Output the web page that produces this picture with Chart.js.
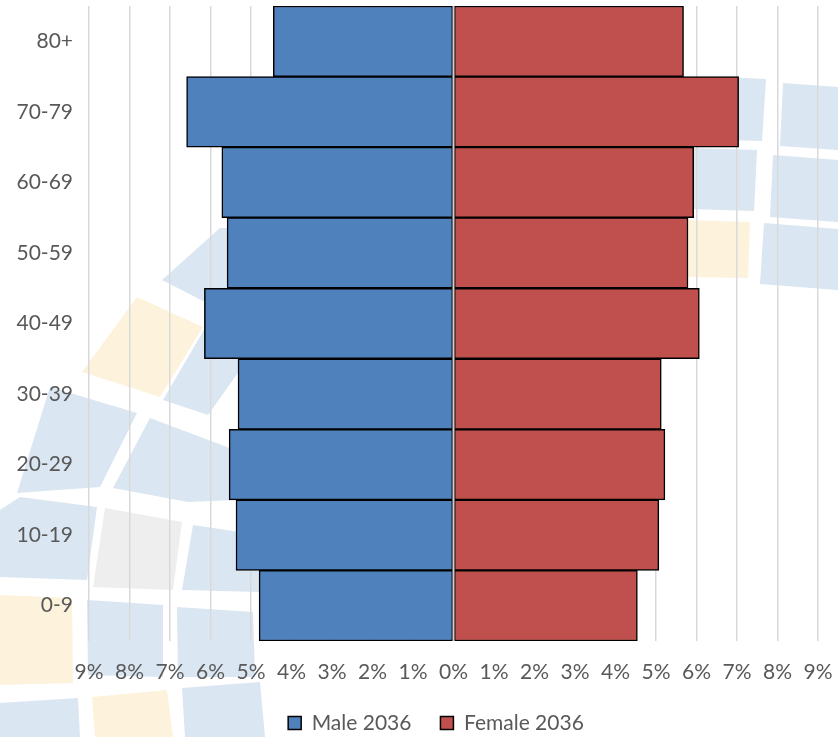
<!DOCTYPE html>
<html>
<head>
<meta charset="utf-8">
<script src="https://cdn.jsdelivr.net/npm/chart.js@4.4.1/dist/chart.umd.min.js"></script>
<style>
  html, body { margin: 0; padding: 0; background: #fff; overflow: hidden; }
  #wrap { width: 838px; height: 737px; position: relative; }
</style>
</head>
<body>
<div id="wrap"><canvas id="pyramid"></canvas></div>
<script>
// age groups, top to bottom
const ageGroups = ['80+', '70-79', '60-69', '50-59', '40-49', '30-39', '20-29', '10-19', '0-9'];
// share of population (%)
const male2036 = [4.45, 6.59, 5.72, 5.59, 6.15, 5.32, 5.54, 5.37, 4.80];
const female2036 = [5.68, 7.04, 5.93, 5.79, 6.07, 5.13, 5.22, 5.07, 4.54];
const seriesNames = ['Male 2036', 'Female 2036'];
const axisMax = 9;

// faint logo tiles behind the chart (decoration only)
const BLUE = '#dae6f1', YELLOW = '#fdf2dc', GRAY = '#eeeeee';
const watermarkTiles = [
    [BLUE, [[725,77],[766,79],[762,141],[725,140]]],
    [BLUE, [[783,83],[838,87],[838,150],[780,146]]],
    [BLUE, [[690,148],[757,150],[754,211],[690,209]]],
    [BLUE, [[773,155],[838,160],[838,222],[770,217]]],
    [YELLOW, [[686,220],[750,222],[748,278],[686,277]]],
    [BLUE, [[764,223],[838,229],[838,290],[760,284]]],
    [BLUE, [[162,280],[220,228],[240,228],[240,300],[203,301]]],
    [YELLOW, [[82,372],[137,297],[203,327],[160,397]]],
    [BLUE, [[163,400],[208,415],[240,370],[240,330],[205,328]]],
    [BLUE, [[50,387],[137,413],[100,487],[17,493]]],
    [BLUE, [[150,418],[235,450],[235,500],[188,502],[113,488]]],
    [BLUE, [[20,497],[97,507],[87,580],[0,577],[0,510]]],
    [GRAY, [[105,508],[182,522],[173,590],[93,587]]],
    [BLUE, [[193,525],[260,535],[260,592],[182,590]]],
    [YELLOW, [[0,595],[72,598],[73,683],[0,685]]],
    [BLUE, [[87,600],[163,605],[163,677],[88,675]]],
    [BLUE, [[177,607],[253,612],[255,677],[178,677]]],
    [BLUE, [[0,703],[78,698],[80,737],[0,737]]],
    [YELLOW, [[92,697],[167,690],[173,737],[95,737]]],
    [BLUE, [[182,688],[260,682],[265,737],[185,737]]]
];

const watermark = {
    id: 'watermark',
    beforeDraw(chart) {
        const ctx = chart.ctx;
        ctx.save();
        watermarkTiles.forEach(([color, pts]) => {
            ctx.beginPath();
            pts.forEach(([x, y], i) => i ? ctx.lineTo(x, y) : ctx.moveTo(x, y));
            ctx.closePath();
            ctx.fillStyle = color;
            ctx.fill();
        });
        ctx.restore();
    }
};

// vertical axis line at 0%, drawn over the bars like Excel does
const centerLine = {
    id: 'centerLine',
    afterDatasetsDraw(chart) {
        const ctx = chart.ctx;
        const x = chart.scales.x.getPixelForValue(0);
        ctx.save();
        ctx.strokeStyle = '#d0d0d0';
        ctx.lineWidth = 2;
        ctx.beginPath();
        ctx.moveTo(x, chart.chartArea.top);
        ctx.lineTo(x, chart.chartArea.bottom);
        ctx.stroke();
        ctx.restore();
    }
};

// Excel centres the legend a bit right of the canvas middle
const legendShift = {
    id: 'legendShift',
    afterLayout(chart) { chart.legend.left = 54; }
};

function noScalePadding(scale) {
    scale.paddingLeft = scale.paddingRight = scale.paddingTop = scale.paddingBottom = 0;
}

const textColor = '#595959';
const font = { family: 'Lato', size: 21 };

var ctx = document.getElementById('pyramid').getContext('2d');
var chart = new Chart(ctx, {
    type: 'bar',
    data: {
        labels: ageGroups,
        datasets: [{
            label: seriesNames[0],
            data: male2036.map(v => -v),
            backgroundColor: '#4f81bd',
            borderColor: '#000000',
            borderWidth: 1.5,
            borderSkipped: false
        }, {
            label: seriesNames[1],
            data: female2036,
            backgroundColor: '#c0504d',
            borderColor: '#000000',
            borderWidth: 1.5,
            borderSkipped: false
        }]
    },
    options: {
        indexAxis: 'y',
        responsive: true,
        maintainAspectRatio: false,
        animation: false,
        layout: { padding: { top: 6, right: 20, left: 0, bottom: -6.5 } },
        datasets: { bar: { barPercentage: 1, categoryPercentage: 1 } },
        scales: {
            x: {
                stacked: true,
                min: -axisMax,
                max: axisMax,
                grid: { color: '#d9d9d9', lineWidth: 1.5, drawTicks: false },
                border: { display: false },
                ticks: {
                    stepSize: 1,
                    autoSkip: false,
                    maxRotation: 0,
                    padding: 19,
                    color: textColor,
                    font: font,
                    callback: v => Math.abs(v) + '%'
                },
                afterFit(scale) { scale.height = 42.5; noScalePadding(scale); }
            },
            y: {
                stacked: true,
                grid: { display: false, drawTicks: false },
                border: { display: false },
                ticks: { padding: 16, color: textColor, font: font },
                afterFit(scale) { scale.width = 89; noScalePadding(scale); }
            }
        },
        plugins: {
            legend: {
                position: 'bottom',
                labels: {
                    boxWidth: 13,
                    boxHeight: 13,
                    padding: 29,
                    color: textColor,
                    font: font
                }
            },
            tooltip: { enabled: false }
        }
    },
    plugins: [watermark, centerLine, legendShift]
});
</script>
</body>
</html>
